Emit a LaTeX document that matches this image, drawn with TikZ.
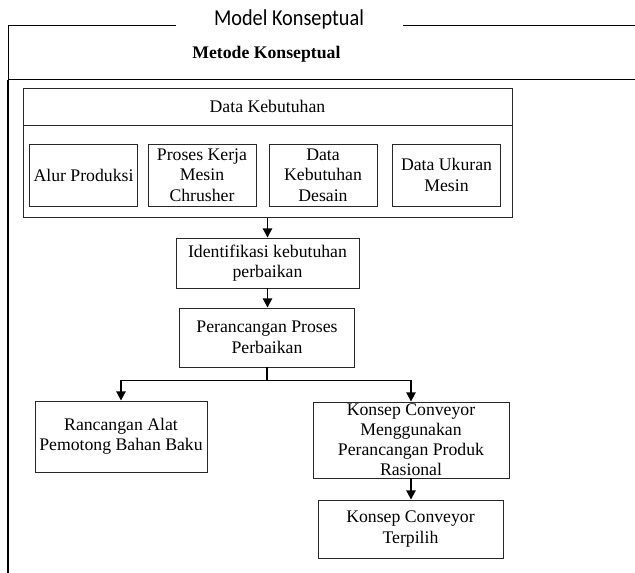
\documentclass[tikz,border=0pt]{standalone}
\usepackage{fontspec}
\setmainfont{Liberation Serif}
\newfontfamily\judulfont{Carlito}
\usetikzlibrary{arrows.meta,positioning,calc}
\definecolor{garisBox}{RGB}{40,40,40}

\begin{document}
\begin{tikzpicture}[
    box/.style={draw=garisBox,line width=0.6pt,align=center,inner sep=1pt,
                font=\fontsize{12.6}{14.6}\selectfont},
    subbox/.style={box,minimum width=2.7cm,minimum height=1.55cm},
    flow/.style={-{Triangle[length=6.5pt,width=6.5pt]},line width=1.3pt},
  ]
  \useasboundingbox (0,0) rectangle (15.875,14.325);

  % Bingkai model konseptual
  \node[font=\judulfont\fontsize{16.2}{18}\selectfont,xscale=0.89] (judul) at (7.225,13.84){Model Konseptual};
  \draw[line width=0.7pt] (4.4,13.675) -- (0.2,13.675) -- (0.2,12.325);
  \draw[line width=0.7pt] (10.075,13.675) -- (15.875,13.675);
  \draw[line width=1.1pt] (0.2,12.325) -- (0.2,0);
  \draw[line width=0.7pt] (0.2,12.325) -- (15.875,12.325);
  \node[font=\bfseries\fontsize{12.6}{14.6}\selectfont] (metode) at (6.66,12.97){Metode Konseptual};

  % Data kebutuhan
  \node[box,minimum width=12.225cm,minimum height=0.925cm] (dk) at (6.6875,11.6625){Data Kebutuhan};
  \node[box,minimum width=12.225cm,minimum height=2.3cm,below=0pt of dk] (dkisi){};
  \node[subbox] (alur)   at (2.0875,9.95){Alur Produksi};
  \node[subbox] (proses) at (5.05,9.95){Proses Kerja\\Mesin\\Chrusher};
  \node[subbox] (desain) at (8.075,9.95){Data\\Kebutuhan\\Desain};
  \node[subbox] (ukuran) at (11.1625,9.95){Data Ukuran\\Mesin};

  % Alur perbaikan
  \node[box,minimum width=4.575cm,minimum height=1.25cm] (identifikasi) at (6.6875,7.75)
    {Identifikasi kebutuhan\\perbaikan};
  \node[box,minimum width=4.375cm,minimum height=1.475cm] (perancangan) at (6.675,5.8875)
    {Perancangan Proses\\Perbaikan};
  \node[box,minimum width=4.3cm,minimum height=1.775cm] (rancangan) at (3.025,3.4125)
    {Rancangan Alat\\Pemotong Bahan Baku};
  \node[box,minimum width=4.9cm,minimum height=1.9cm,inner ysep=0pt,
        font=\fontsize{12.6}{14.2}\selectfont] (konsep) at (10.275,3.325)
    {Konsep Conveyor\\Menggunakan\\Perancangan Produk\\Rasional};
  \node[box,minimum width=4.625cm,minimum height=1.45cm] (terpilih) at (10.2625,1.1)
    {Konsep Conveyor\\Terpilih};

  % panah
  \draw[flow] (dkisi.south) -- (dkisi.south |- identifikasi.north);
  \draw[flow] (identifikasi.south) -- (identifikasi.south |- perancangan.north);
  \coordinate (cabang) at ($(perancangan.south)+(0,-0.325)$);
  \draw[line width=1.3pt] (perancangan.south) -- (cabang);
  \draw[flow] (cabang) -| (rancangan.north);
  \draw[flow] (cabang) -| (konsep.north);
  \draw[flow] (konsep.south) -- (konsep.south |- terpilih.north);

\end{tikzpicture}
\end{document}
